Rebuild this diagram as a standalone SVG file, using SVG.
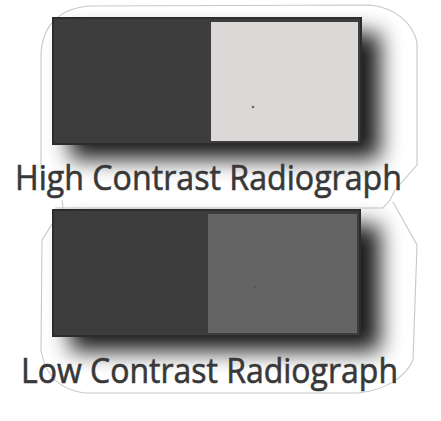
<svg xmlns="http://www.w3.org/2000/svg" width="441" height="421" viewBox="0 0 441 421">
<defs>
<filter id="sh" x="-25%" y="-40%" width="150%" height="180%"><feGaussianBlur stdDeviation="11"/></filter>
<style>
.outline{fill:none;stroke:#c8c8c8;stroke-width:1.1}
.frame{fill:#3d3d3d;stroke:#2c2c2c;stroke-width:2}
.lbl{font-family:"Open Sans","Noto Sans",sans-serif;font-size:34px;fill:#383838;stroke:#383838;stroke-width:0.6}
.shadow{fill:#000;opacity:0.9;filter:url(#sh)}
.dot{fill:#666}
</style>
</defs>
<rect width="441" height="421" fill="#fff"/>
<g id="high-panel">
<path class="outline" d="M41,170 L41,55 C42,25 60,8 90,6 L370,5 C395,8 412,22 417,42 L417,165 L395,190 L390,200 L383,208 L55,208"/>
<rect class="shadow" x="70" y="33" width="310" height="126"/>
<rect class="frame" x="53" y="18" width="308" height="126"/>
<rect x="211" y="22" width="147" height="119" fill="#dbd8d7"/>
<circle class="dot" cx="253" cy="107" r="1.3"/>
<text class="lbl" x="15" y="190" textLength="387" lengthAdjust="spacingAndGlyphs">High Contrast Radiograph</text>
</g>
<g id="low-panel">
<path class="outline" d="M62,200 L63,207 L42,240 L41,350 C45,375 60,390 85,393 L358,393 C385,390 405,378 413,360 L417,245 L393,202"/>
<rect class="shadow" x="70" y="225" width="310" height="126"/>
<rect class="frame" x="53" y="210" width="307" height="126"/>
<rect x="208" y="214" width="149" height="119" fill="#646464"/>
<circle cx="255" cy="287" r="1.3" fill="#575757"/>
<text class="lbl" x="21" y="383" textLength="377" lengthAdjust="spacingAndGlyphs">Low Contrast Radiograph</text>
</g>
<g id="connectors"/>
</svg>
